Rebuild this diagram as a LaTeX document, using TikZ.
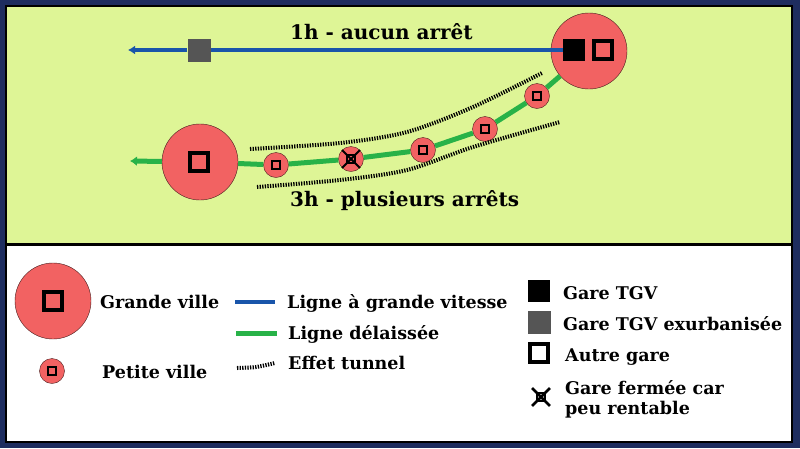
\documentclass[tikz,border=0pt]{standalone}
\usepackage{fontspec}
\setmainfont{DejaVu Serif}
\usetikzlibrary{arrows.meta}
\definecolor{cadre}{RGB}{30,45,95}
\definecolor{fondcarte}{RGB}{222,245,150}
\definecolor{ville}{RGB}{242,98,98}
\definecolor{bleuTGV}{RGB}{25,85,170}
\definecolor{vertligne}{RGB}{40,178,72}
\definecolor{grisgare}{RGB}{85,85,85}
\begin{document}
\begin{tikzpicture}[x=1pt,y=-1pt,
    grandeville/.style={circle,draw=black!70!ville,fill=ville,minimum size=76pt,inner sep=0pt},
    petiteville/.style={circle,draw=black!70!ville,fill=ville,minimum size=25pt,inner sep=0pt},
    garetgv/.style={rectangle,fill=black,minimum size=22pt,inner sep=0pt},
    gareexu/.style={rectangle,fill=grisgare,minimum size=23pt,inner sep=0pt},
    autregare/.style={rectangle,draw=black,line width=4pt,minimum size=18pt,inner sep=0pt},
    petitegare/.style={rectangle,draw=black,line width=2.5pt,minimum size=8pt,inner sep=0pt},
    croixferme/.style={circle,minimum size=25pt,inner sep=0pt},
    ligneTGV/.style={bleuTGV,line width=4pt},
    lignevieille/.style={vertligne,line width=5pt},
    tunnel/.style={line width=4pt,dash pattern=on 1.3pt off 1.3pt},
    titre/.style={font=\bfseries\fontsize{20}{23}\selectfont,anchor=base west,inner sep=0pt},
    legende/.style={font=\bfseries\fontsize{17.5}{20}\selectfont,anchor=base west,inner sep=0pt}]

    % Cadre
    \useasboundingbox (0,0) rectangle (800,448);
    \fill[cadre] (0,0) rectangle (800,448);
    \draw[line width=2.5pt,fill=white] (6,6) rectangle (792,442);
    \fill[fondcarte] (7.25,7.25) rectangle (790.75,244);
    \draw[line width=3pt] (6,244) -- (792,244);

    % Villes et gares de la carte
    \node[grandeville] (gvD) at (589,51) {};
    \node[grandeville] (gvG) at (200,162) {};
    \node[garetgv] (tgv) at (574,50) {};
    \node[autregare] (gareD) at (603,50) {};
    \node[autregare] (gareG) at (199,162) {};
    \node[gareexu] (exu) at (199,50) {};
    \node[petiteville] (pv1) at (276,165) {};
    \node[petiteville] (fermee) at (351,159) {};
    \node[petiteville] (pv2) at (423,150) {};
    \node[petiteville] (pv3) at (485,129) {};
    \node[petiteville] (pv4) at (537,96) {};
    \foreach \v in {pv1,fermee,pv2,pv3,pv4}
        \node[petitegare] at (\v) {};
    \draw[line width=2pt] (fermee.north west) -- (fermee.south east);
    \draw[line width=2pt] (fermee.north east) -- (fermee.south west);

    % Lignes
    \coordinate (bleufin) at (128,50);
    \coordinate (vertfin) at (130,161);
    \draw[ligneTGV,-{Latex[length=7pt,width=9pt]}] (tgv) -- (exu) -- (bleufin);
    \draw[lignevieille,-{Latex[length=7pt,width=10pt]}] (gvG) -- (vertfin);
    \draw[lignevieille] (gvG) -- (pv1) -- (fermee) -- (pv2) -- (pv3) -- (pv4) -- (gvD);

    % Effet tunnel
    \draw[tunnel] plot[smooth] coordinates {(250,149) (340,143) (407,132) (473,107) (542,73)};
    \draw[tunnel] plot[smooth] coordinates {(257,187) (340,180) (407,170) (473,147) (560,122)};

    \node[titre] (titreTGV) at (290,39) {1h - aucun arrêt};
    \node[titre] (titreTER) at (290,206) {3h - plusieurs arrêts};

    % Légende
    \node[grandeville] (lgv) at (53,301) {};
    \node[autregare] at (lgv) {};
    \node[legende] at (100,308) {Grande ville};
    \node[petiteville] (lpv) at (52,371) {};
    \node[petitegare] at (lpv) {};
    \node[legende] at (102,378) {Petite ville};

    \coordinate (lb1) at (235,302);
    \coordinate (lb2) at (275,302);
    \coordinate (lv1) at (236,333);
    \coordinate (lv2) at (277,333);
    \draw[ligneTGV] (lb1) -- (lb2);
    \draw[lignevieille] (lv1) -- (lv2);
    \draw[tunnel] plot[smooth] coordinates {(237,368) (256,367) (275,363)};
    \node[legende] at (287,308) {Ligne à grande vitesse};
    \node[legende] at (288,339) {Ligne délaissée};
    \node[legende] at (288,369) {Effet tunnel};

    \node[garetgv] at (539,291) {};
    \node[gareexu] at (539,322) {};
    \node[autregare] at (539,353) {};
    \node[petitegare] (lcroix) at (541,397) {};
    \node[croixferme] (lx) at (lcroix) {};
    \draw[line width=2.5pt] (lx.north west) -- (lx.south east);
    \draw[line width=2.5pt] (lx.north east) -- (lx.south west);
    \node[legende] at (563,299) {Gare TGV};
    \node[legende] at (563,330) {Gare TGV exurbanisée};
    \node[legende] at (565,361) {Autre gare};
    \node[legende] at (565,394) {Gare fermée car};
    \node[legende] at (565,414) {peu rentable};
\end{tikzpicture}
\end{document}
